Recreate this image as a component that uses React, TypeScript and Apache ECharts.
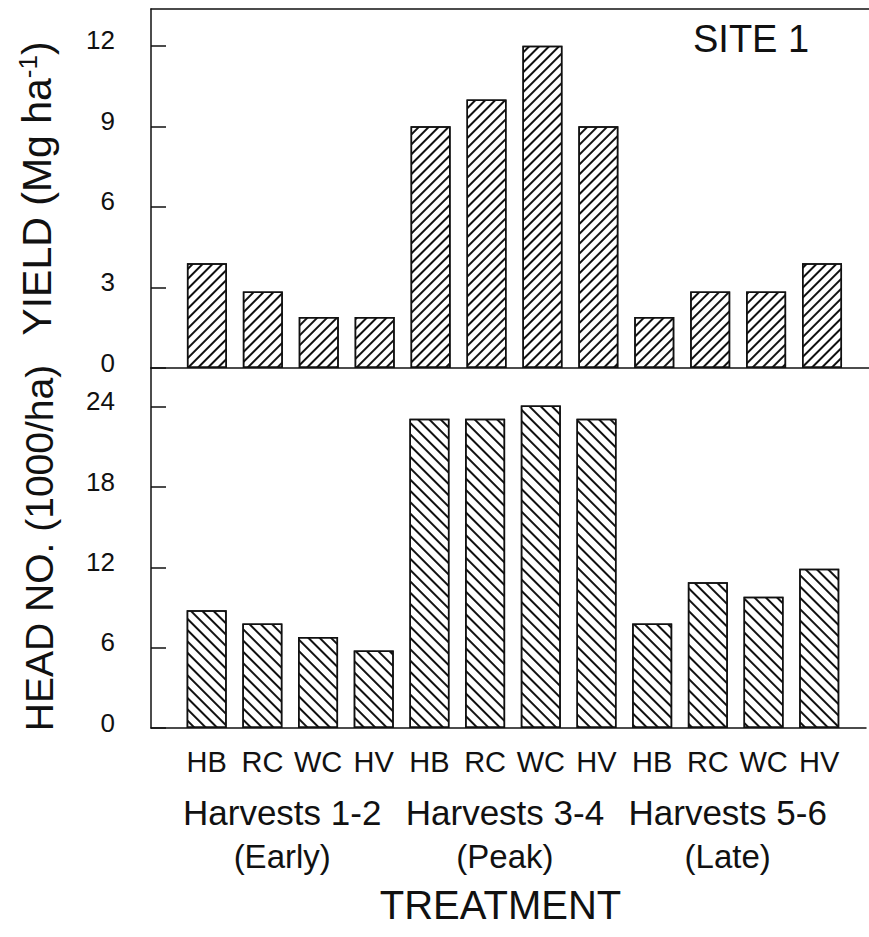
import React, { useEffect, useRef } from 'react';
import * as echarts from 'echarts';

// ---- data ----
const treatments = ['HB', 'RC', 'WC', 'HV', 'HB', 'RC', 'WC', 'HV', 'HB', 'RC', 'WC', 'HV'];
const harvestGroups = ['Harvests 1-2', 'Harvests 3-4', 'Harvests 5-6'];
const harvestPhases = ['(Early)', '(Peak)', '(Late)'];
const groupCenters = [1.5, 5.5, 9.5];
const yieldValues = [3.9, 2.85, 1.9, 1.9, 9.0, 10.0, 12.0, 9.0, 1.9, 2.85, 2.85, 3.9];
const headNumbers = [8.8, 7.8, 6.8, 5.8, 23.1, 23.1, 24.1, 23.1, 7.8, 10.9, 9.8, 11.9];
const yieldTicks = [0, 3, 6, 9, 12];
const headTicks = [0, 6, 12, 18, 24];

const FONT = '"Liberation Sans", Arial, Helvetica, sans-serif';
const BLACK = '#111';

export default function App() {
  const ref = useRef<HTMLDivElement>(null);

  useEffect(() => {
    if (!ref.current) return;
    const chart = echarts.init(ref.current, null, { renderer: 'svg' });

    const line = { color: BLACK, width: 1.5 };
    const xBase = {
      type: 'value' as const,
      min: -1,
      max: 11.84,
      interval: 1,
      splitLine: { show: false },
      axisTick: { show: false },
      axisLabel: { show: false },
      axisLine: { show: true, onZero: false, lineStyle: line },
    };
    const hatch = (rot: number, gap: number) => ({
      symbol: 'rect',
      symbolSize: 1,
      dashArrayX: [1, 0],
      dashArrayY: [1.3, gap],
      rotation: rot,
      color: BLACK,
    });
    const yLabel = (ticks: number[]) => ({
      fontSize: 26,
      color: BLACK,
      fontFamily: FONT,
      margin: 36,
      verticalAlign: 'bottom',
      lineHeight: 11,
      showMaxLabel: false,
      formatter: (v: number) => (ticks.includes(v) ? String(v) : ''),
    });

    chart.setOption({
      animation: false,
      backgroundColor: '#fff',
      textStyle: { fontFamily: FONT },
      title: {
        text: 'SITE 1',
        left: 688,
        top: 15,
        textStyle: { fontSize: 38, fontWeight: 'normal', color: BLACK, fontFamily: FONT },
      },
      grid: [
        { left: 151, top: 9, width: 718, height: 359 },
        { left: 151, top: 368, width: 718, height: 360 },
      ],
      xAxis: [
        { ...xBase, gridIndex: 0 },
        { ...xBase, gridIndex: 0, position: 'top' },
        {
          ...xBase,
          gridIndex: 1,
          axisLabel: {
            show: true,
            fontSize: 29,
            color: BLACK,
            fontFamily: FONT,
            margin: 19,
            formatter: (v: number) =>
              Number.isInteger(v) && v >= 0 && v < treatments.length ? treatments[v] : '',
          },
          name: 'TREATMENT',
          nameLocation: 'middle',
          nameGap: 157,
          nameTextStyle: { fontSize: 40, color: BLACK, fontFamily: FONT, padding: [0, 16, 0, 0] },
        },
      ],
      yAxis: [
        {
          type: 'value',
          gridIndex: 0,
          min: 0,
          max: 13.37,
          interval: 3,
          splitLine: { show: false },
          axisLine: { show: true, onZero: false, lineStyle: line },
          axisTick: { show: true, inside: true, length: 15, lineStyle: line },
          axisLabel: yLabel(yieldTicks),
          name: 'YIELD (Mg ha{sup|-1})',
          nameLocation: 'middle',
          nameRotate: 90,
          nameGap: 92,
          nameTextStyle: {
            fontSize: 41,
            color: BLACK,
            fontFamily: FONT,
            rich: { sup: { fontSize: 26, color: BLACK, fontFamily: FONT, padding: [0, 0, 18, 0] } },
          },
        },
        {
          type: 'value',
          gridIndex: 1,
          min: 0,
          max: 26.9,
          interval: 6,
          splitLine: { show: false },
          axisLine: { show: true, onZero: false, lineStyle: line },
          axisTick: { show: true, inside: true, length: 15, lineStyle: line },
          axisLabel: yLabel(headTicks),
          name: 'HEAD NO. (1000/ha)',
          nameLocation: 'middle',
          nameRotate: 90,
          nameGap: 92,
          nameTextStyle: { fontSize: 39, color: BLACK, fontFamily: FONT },
        },
      ],
      series: [
        {
          type: 'bar',
          xAxisIndex: 0,
          yAxisIndex: 0,
          barWidth: 40,
          silent: true,
          data: yieldValues.map((v, i) => [i, v]),
          itemStyle: {
            color: '#fff',
            borderColor: BLACK,
            borderWidth: 1.5,
            decal: hatch(-Math.PI / 4, 4.6),
          },
        },
        {
          type: 'bar',
          xAxisIndex: 2,
          yAxisIndex: 1,
          barWidth: 40,
          silent: true,
          data: headNumbers.map((v, i) => [i, v]),
          itemStyle: {
            color: '#fff',
            borderColor: BLACK,
            borderWidth: 1.5,
            decal: hatch(Math.PI / 4, 5.6),
          },
        },
      ],
    });

    const xs = groupCenters.map((c) => chart.convertToPixel({ xAxisIndex: 2 }, c) as number);
    const textEl = (t: string, x: number, y: number, size: number) => ({
      type: 'text',
      x,
      y,
      silent: true,
      style: {
        text: t,
        fill: BLACK,
        fontSize: size,
        fontFamily: FONT,
        align: 'center',
        verticalAlign: 'top',
        textAlign: 'center',
        textVerticalAlign: 'top',
      },
    });
    chart.setOption({
      graphic: [
        ...harvestGroups.map((t, i) => textEl(t, xs[i] - 8, 795, 35)),
        ...harvestPhases.map((t, i) => textEl(t, xs[i] - 8, 840, 33)),
      ],
    });

    return () => chart.dispose();
  }, []);

  return (
    <div
      ref={ref}
      style={{ position: 'absolute', left: 0, top: 0, width: 869, height: 937, background: '#fff' }}
    />
  );
}
